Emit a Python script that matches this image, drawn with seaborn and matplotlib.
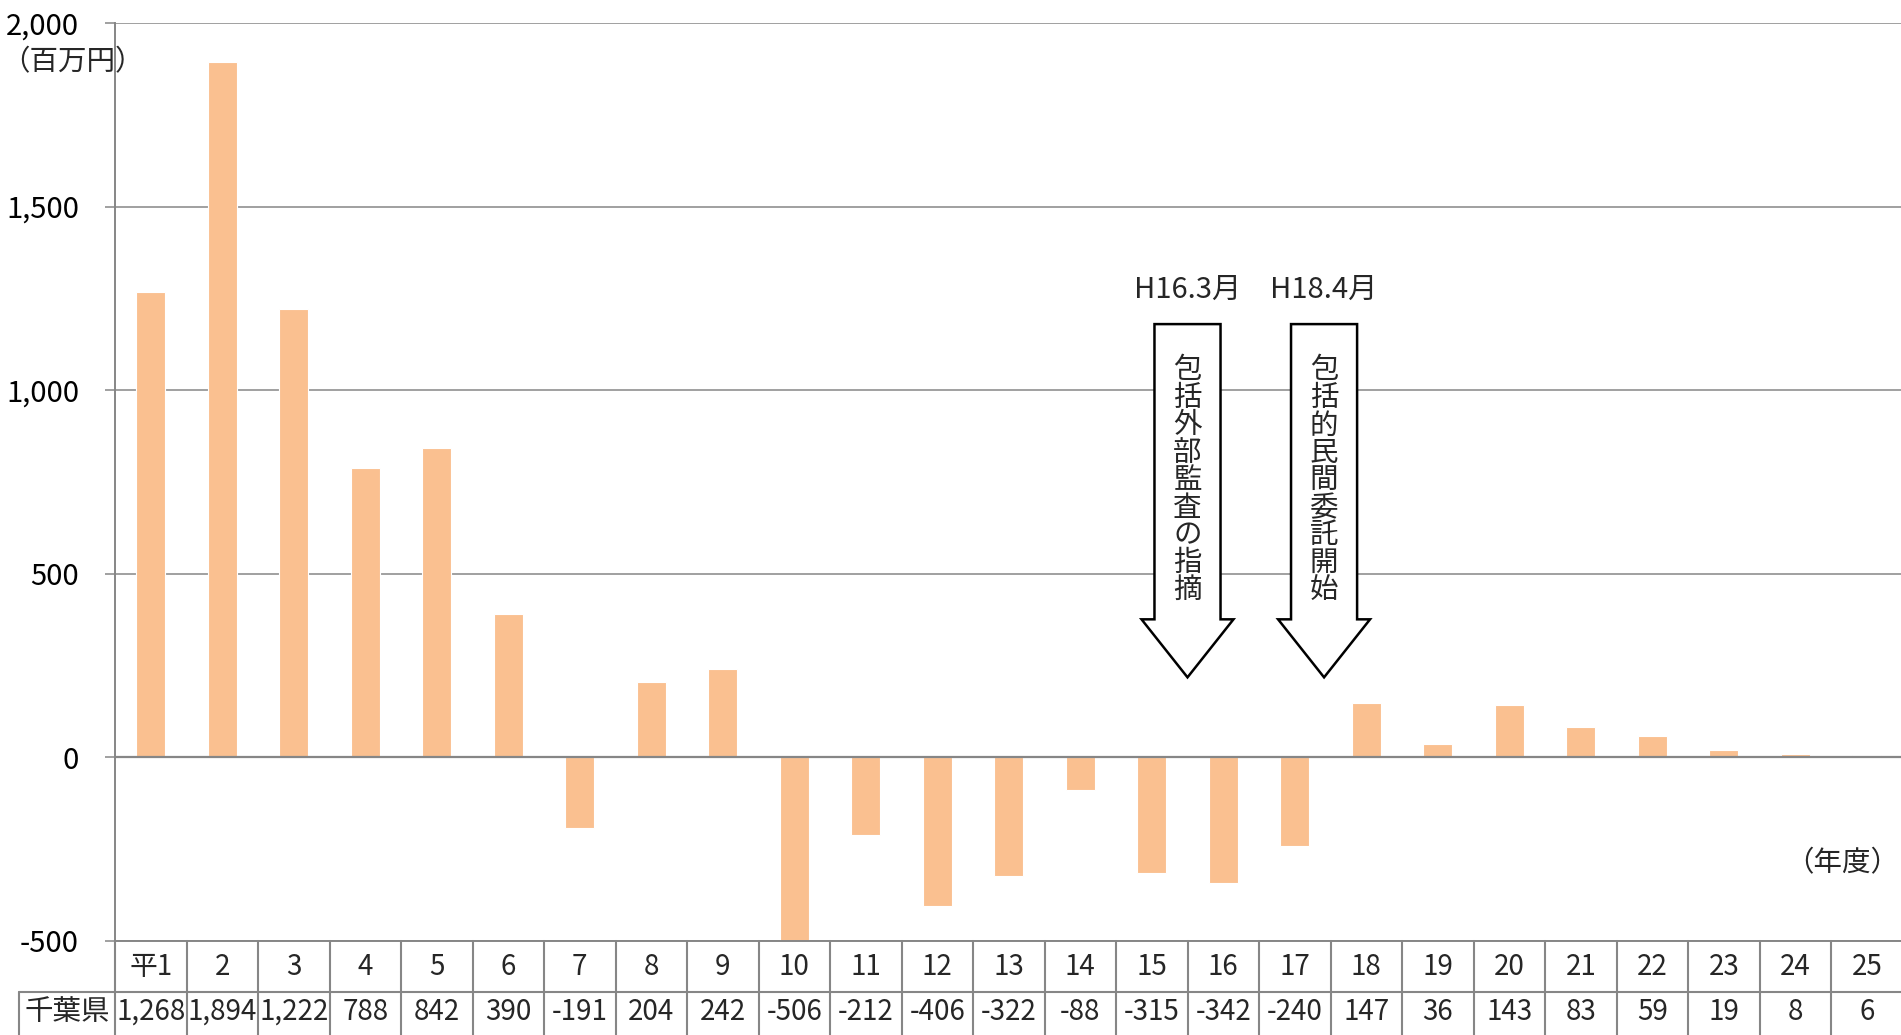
import numpy as np
import pandas as pd
import matplotlib
matplotlib.use("Agg")
import matplotlib.pyplot as plt
from matplotlib.patches import Polygon
from matplotlib.ticker import FuncFormatter, MultipleLocator
import seaborn as sns

# Fiscal years (Heisei) and yearly balance for Chiba prefecture, in million yen
years = ["平1", "2", "3", "4", "5", "6", "7", "8", "9", "10", "11", "12", "13",
         "14", "15", "16", "17", "18", "19", "20", "21", "22", "23", "24", "25"]
balance = [1268, 1894, 1222, 788, 842, 390, -191, 204, 242, -506, -212, -406,
           -322, -88, -315, -342, -240, 147, 36, 143, 83, 59, 19, 8, 6]
row_label = "千葉県"
unit_label = "（百万円）"
year_label = "（年度）"
event_dates = ["H16.3月", "H18.4月"]
event_texts = ["包括外部監査の指摘", "包括的民間委託開始"]

# Arrow placement (x in category units, y in data units)
arrow_x = [14.5, 16.41]
arrow_top, arrow_neck, arrow_tip = 1180, 376, 218
shaft_half, head_half = 0.462, 0.643
date_y = 1272
char_top, char_bottom = 1054, 455

BAR = "#FAC090"
GRID = "#868686"
FS_TICK = 21
FS_TABLE = 20
FS_CJK = 20.5

sns.set_theme(style="white")
plt.rcParams["font.family"] = ["Noto Sans CJK JP", "DejaVu Sans"]

W, H = 1901, 1035
fig = plt.figure(figsize=(W / 100, H / 100), dpi=100, facecolor="white")
ax = fig.add_axes([115 / W, 1 - 941 / H, (1902.5 - 115) / W, (941 - 23) / H])

df = pd.DataFrame({"year": years, "value": balance})
sns.barplot(data=df, x="year", y="value", color=BAR, saturation=1, width=0.41,
            edgecolor="white", linewidth=0.8, ax=ax, zorder=2)

ax.set_xlim(-0.5, 24.5)
ax.set_ylim(-500, 2000)
ax.yaxis.set_major_locator(MultipleLocator(500))
ax.yaxis.set_major_formatter(FuncFormatter(lambda v, p: f"{int(v):,}"))
ax.grid(axis="y", color=GRID, lw=1.1, zorder=0)
ax.set_axisbelow(True)
ax.axhline(0, color=GRID, lw=1.6, zorder=3)
for side in ("top", "right"):
    ax.spines[side].set_visible(False)
for side in ("left", "bottom"):
    ax.spines[side].set_color(GRID)
    ax.spines[side].set_linewidth(1.4)
ax.tick_params(axis="y", left=True, length=7, width=1.1, color=GRID, pad=19,
               labelsize=FS_TICK, labelcolor="black")
ax.tick_params(axis="x", bottom=False, labelbottom=False)
ax.set_xlabel("")
ax.set_ylabel("")

# Data table under the axis
trans = ax.get_xaxis_transform()
ax_h = 941 - 23
row1_bot = -51 / ax_h
row_end = -0.12
left_col = (19 - 115) / 71.5 - 0.5
line_kw = dict(color=GRID, lw=1.5, transform=trans, clip_on=False)
for i in range(len(years) + 1):
    ax.plot([i - 0.5, i - 0.5], [0, row_end], **line_kw)
ax.plot([left_col, 24.5], [row1_bot, row1_bot], **line_kw)
ax.plot([left_col, left_col], [row1_bot, row_end], **line_kw)
for i, (yr, v) in enumerate(zip(years, balance)):
    ax.text(i, -26 / ax_h, yr, ha="center", va="center", fontsize=FS_TABLE,
            transform=trans, clip_on=False)
    ax.text(i, -71 / ax_h, f"{v:,}", ha="center", va="center", fontsize=FS_TABLE,
            transform=trans, clip_on=False)
ax.text((left_col - 0.5) / 2, -71 / ax_h, row_label, ha="center", va="center",
        fontsize=FS_CJK, transform=trans, clip_on=False)

# Event arrows with vertical captions
for cx, date, caption in zip(arrow_x, event_dates, event_texts):
    pts = [(cx - shaft_half, arrow_top), (cx + shaft_half, arrow_top),
           (cx + shaft_half, arrow_neck), (cx + head_half, arrow_neck),
           (cx, arrow_tip), (cx - head_half, arrow_neck),
           (cx - shaft_half, arrow_neck)]
    ax.add_patch(Polygon(pts, closed=True, fc="white", ec="black", lw=1.8,
                         zorder=5, joinstyle="miter"))
    ax.text(cx, date_y, date, ha="center", va="center", fontsize=21, zorder=6)
    for ch, cy in zip(caption, np.linspace(char_top, char_bottom, len(caption))):
        ax.text(cx, cy, ch, ha="center", va="center", fontsize=FS_CJK, zorder=6)

fig.text(1 / W, 1 - 62 / H, unit_label, ha="left", va="center", fontsize=FS_CJK)
fig.text(1899 / W, 1 - 863 / H, year_label, ha="right", va="center", fontsize=FS_CJK)

fig.savefig("out.png", dpi=100, facecolor="white")
